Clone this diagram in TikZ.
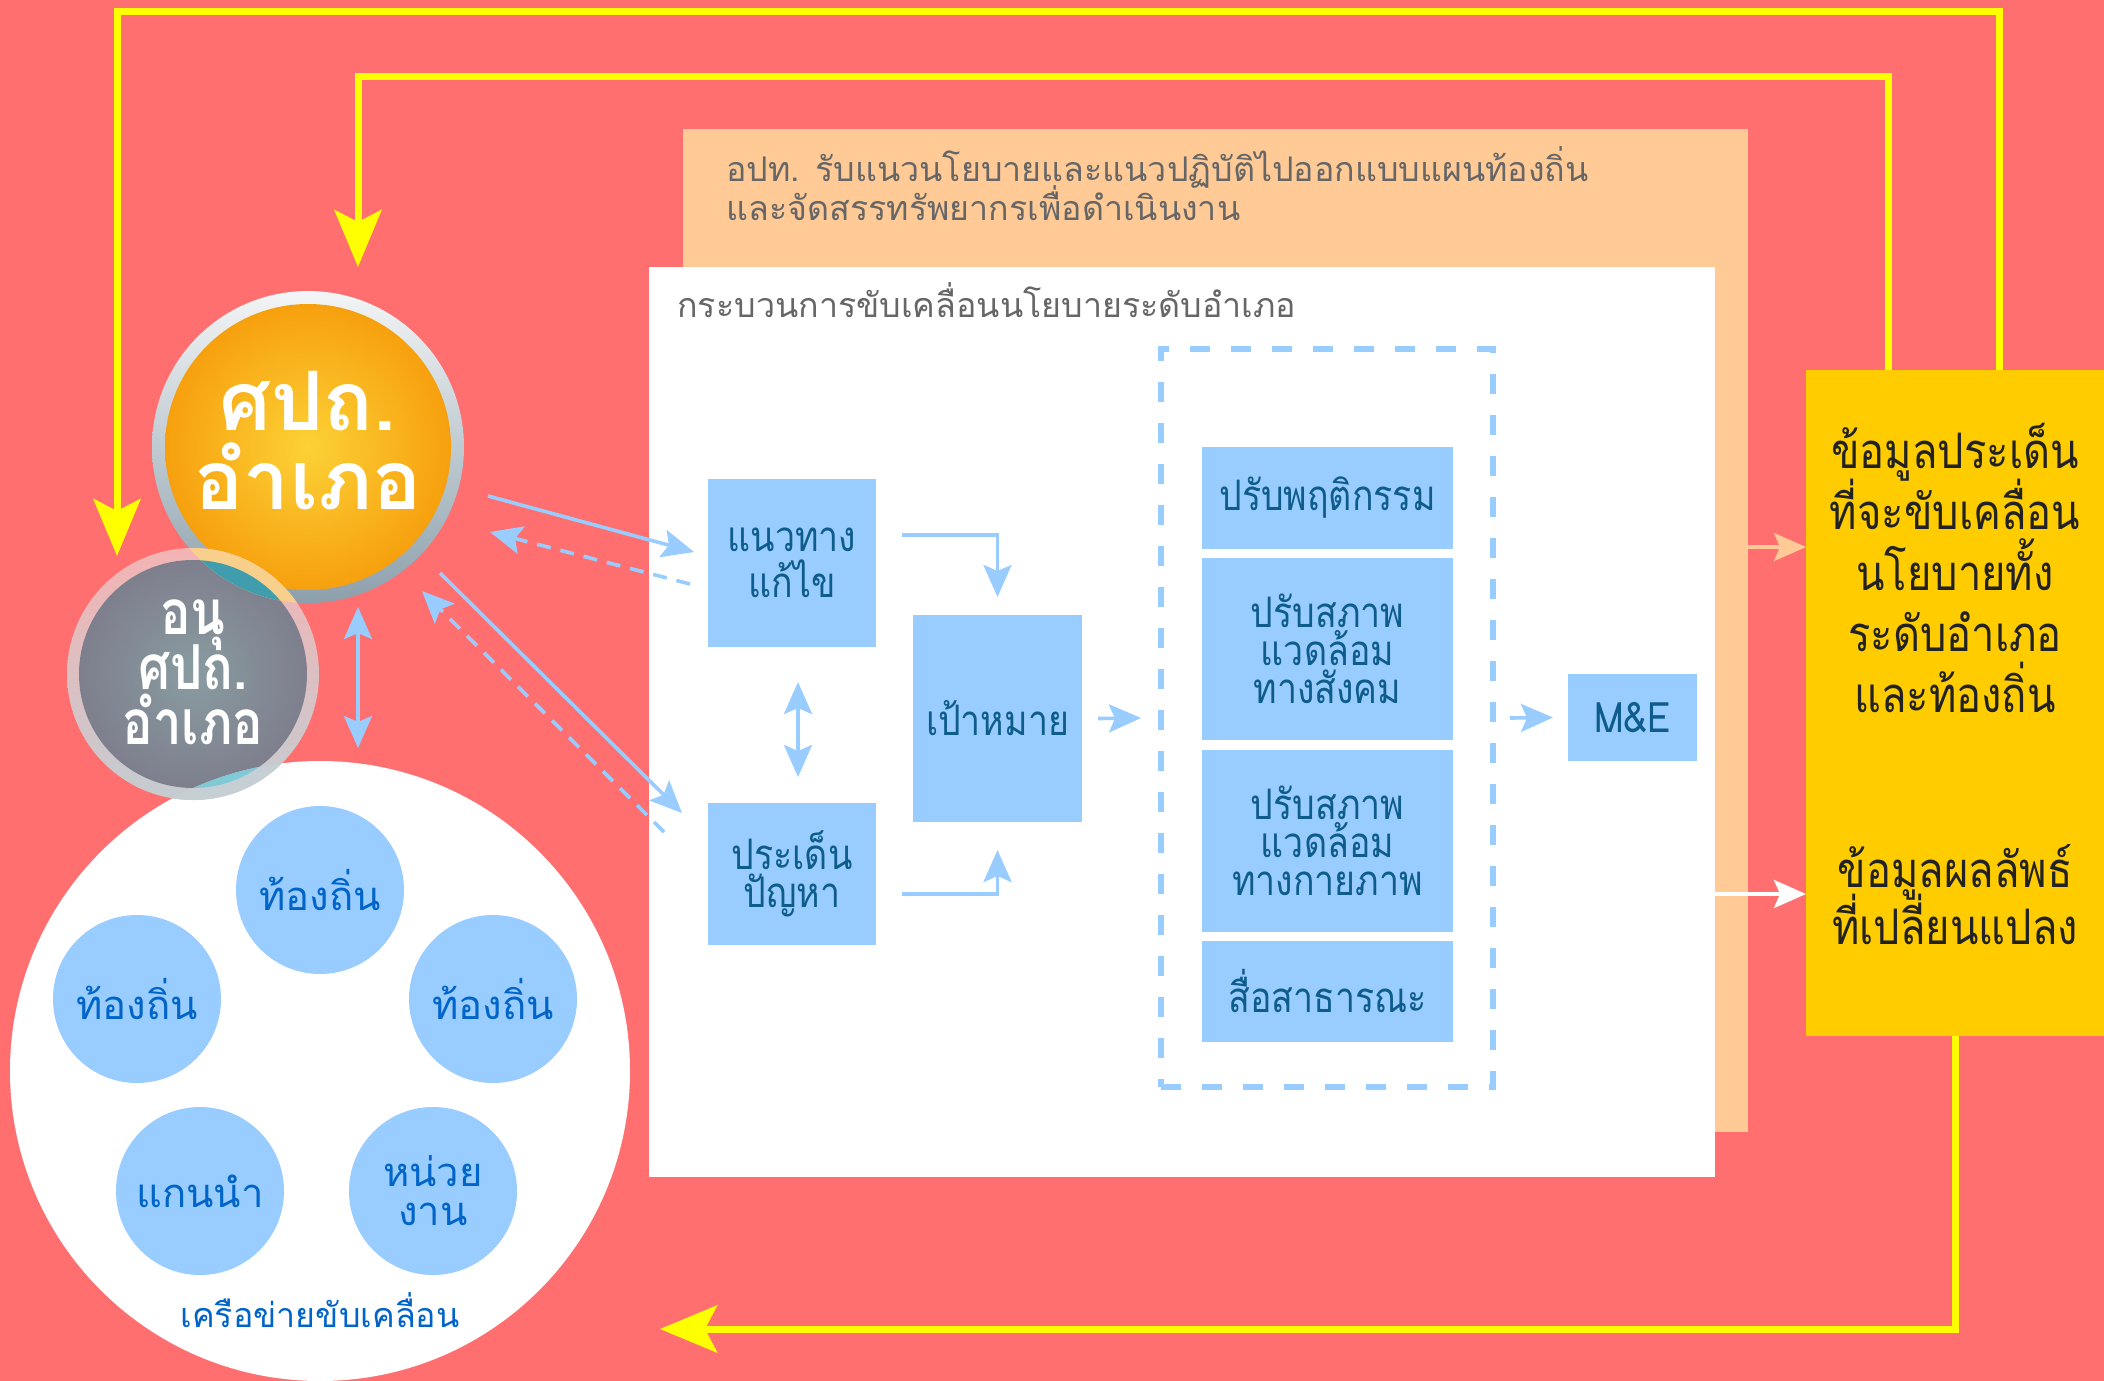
\documentclass[tikz,border=0pt]{standalone}
\usepackage{fontspec}
\usetikzlibrary{arrows.meta}
\newfontfamily\thai[Script=Thai]{Loma}
\newfontfamily\thain[Script=Thai,FakeStretch=0.85]{Loma}
\newfontfamily\thaig[Script=Thai,FakeStretch=0.82]{Loma}
\newcommand\fsz[2]{\fontsize{#1}{#2}\selectfont\lineskiplimit=-\maxdimen}
\definecolor{salmon}{HTML}{FF6F6F}
\definecolor{peachc}{HTML}{FFCA96}
\definecolor{yboxc}{HTML}{FFCC00}
\definecolor{ylinec}{HTML}{FFFF00}
\definecolor{bluec}{HTML}{99CCFF}
\definecolor{boxtxt}{HTML}{0E5C8C}
\definecolor{circtxt}{HTML}{0064C8}
\definecolor{headgrey}{HTML}{666666}
\definecolor{darktxt}{HTML}{222222}
\definecolor{ringtop}{HTML}{F3F5F6}
\definecolor{ringbot}{HTML}{8CA0AC}
\definecolor{orin}{HTML}{FCD236}
\definecolor{orout}{HTML}{F7A00E}
\definecolor{gin}{HTML}{899CA1}
\definecolor{gout}{HTML}{7E7F8D}
\definecolor{gringtop}{HTML}{F4B3B3}
\definecolor{gringbot}{HTML}{C4CCD1}
\definecolor{ovteal}{HTML}{3F9DAD}
\definecolor{ovring}{HTML}{F8D08C}
\definecolor{ovcyan}{HTML}{80C9D6}
\definecolor{ovgrey}{HTML}{C5CFD4}
\tikzset{
  rectbox/.style={rectangle, inner sep=0pt, outer sep=0pt},
  bbox/.style={rectbox, fill=bluec, text=boxtxt, align=center, font=\thain\fsz{21}{19}},
  scirc/.style={circle, inner sep=0pt, minimum size=84pt, fill=bluec, text=circtxt, align=center, font=\thai\fsz{20}{19.5}},
  yl/.style={draw=ylinec, line width=3.5pt, -{Stealth[length=28.5pt,width=23.5pt,inset=6pt]}},
  barrow/.style={draw=bluec, line width=1.8pt, -{Stealth[length=16pt,width=14pt,inset=3pt]}},
  bdarrow/.style={draw=bluec, line width=1.8pt, {Stealth[length=16pt,width=14pt,inset=3pt]}-{Stealth[length=16pt,width=14pt,inset=3pt]}},
  bdash/.style={barrow, dash pattern=on 7pt off 5pt},
}
\begin{document}
\begin{tikzpicture}[x=0.5pt,y=-0.5pt]
\useasboundingbox (0,0) rectangle (2104,1381);
\fill[salmon] (0,0) rectangle (2104,1381);

% big boxes
\node[rectbox, fill=peachc, minimum width=532.5pt, minimum height=501.5pt] (peach) at (1215.5,630.5) {};
\node[rectbox, fill=white, minimum width=533pt, minimum height=455pt] (wbox) at (1182,722) {};
\node[anchor=west, text=headgrey, align=left, inner sep=0pt, font=\thai\fsz{17}{19.5}] (peachtxt) at (726,184)
  {อปท. รับแนวนโยบายและแนวปฏิบัติไปออกแบบแผนท้องถิ่น\\และจัดสรรทรัพยากรเพื่อดำเนินงาน};
\node[anchor=west, text=headgrey, inner sep=0pt, font=\thai\fsz{17}{19.5}] (wtitle) at (677,300)
  {กระบวนการขับเคลื่อนนโยบายระดับอำเภอ};

% dashed group
\node[rectbox, draw=bluec, line width=3.2pt, dash pattern=on 10pt off 10.5pt, minimum width=166pt, minimum height=369pt] (dbox) at (1327,718) {};

% blue boxes
\node[bbox, minimum width=84pt, minimum height=84pt, font=\thain\fsz{21}{23}] (b1) at (792,563) {แนวทาง\\แก้ไข};
\node[bbox, minimum width=84pt, minimum height=71pt] (b2) at (792,874) {ประเด็น\\ปัญหา};
\node[bbox, minimum width=84.5pt, minimum height=103.5pt] (goal) at (997.5,718.5) {เป้าหมาย};
\node[bbox, minimum width=125.5pt, minimum height=51pt] (p1) at (1327.5,498) {ปรับพฤติกรรม};
\node[bbox, minimum width=125.5pt, minimum height=91pt] (p2) at (1327.5,649) {ปรับสภาพ\\แวดล้อม\\ทางสังคม};
\node[bbox, minimum width=125.5pt, minimum height=91pt] (p3) at (1327.5,841) {ปรับสภาพ\\แวดล้อม\\ทางกายภาพ};
\node[bbox, minimum width=125.5pt, minimum height=50.5pt] (p4) at (1327.5,991.5) {สื่อสาธารณะ};
\node[bbox, minimum width=64.5pt, minimum height=43.5pt] (me) at (1632.5,717.5) {M\&E};

% yellow box
\node[rectbox, fill=yboxc, minimum width=149pt, minimum height=333pt] (ybox) at (1955,703) {};
\node[text=darktxt, align=center, inner sep=0pt, font=\thain\fsz{24.5}{30.5}] (ytxt1) at (1955,568)
  {ข้อมูลประเด็น\\ที่จะขับเคลื่อน\\นโยบายทั้ง\\ระดับอำเภอ\\และท้องถิ่น};
\node[text=darktxt, align=center, inner sep=0pt, font=\thain\fsz{24.5}{28.5}] (ytxt2) at (1955,895)
  {ข้อมูลผลลัพธ์\\ที่เปลี่ยนแปลง};

% network circle
\node[circle, fill=white, inner sep=0pt, minimum size=310pt] (net) at (320,1071) {};
\node[scirc] (c1) at (320,890) {ท้องถิ่น};
\node[scirc] (c2) at (137,999) {ท้องถิ่น};
\node[scirc] (c3) at (493,999) {ท้องถิ่น};
\node[scirc] (c4) at (200,1191) {แกนนำ};
\node[scirc] (c5) at (433,1191) {หน่วย\\งาน};
\node[text=circtxt, inner sep=0pt, font=\thai\fsz{17}{19}] (netlbl) at (320,1310) {เครือข่ายขับเคลื่อน};

% orange circle
\node[circle, inner sep=0pt, minimum size=156pt, top color=ringtop, bottom color=ringbot] (orange) at (308,447) {};
\node[circle, inner sep=0pt, minimum size=143pt, inner color=orin, outer color=orout] (orangein) at (308,447) {};

% grey circle
\node[circle, inner sep=0pt, minimum size=126pt, top color=gringtop, bottom color=gringbot] (grey) at (193,674) {};
\node[circle, inner sep=0pt, minimum size=114pt, inner color=gin, outer color=gout] (greyin) at (193,674) {};
\begin{scope}
  \clip (308,447) circle[radius=78pt];
  \fill[ovring] (193,674) circle[radius=63pt];
  \fill[ovteal] (193,674) circle[radius=57pt];
\end{scope}
\begin{scope}
  \clip (320,1071) circle[radius=155pt];
  \fill[ovgrey] (193,674) circle[radius=63pt];
  \fill[ovcyan] (193,674) circle[radius=57pt];
\end{scope}
\node[text=white, align=center, inner sep=0pt, font=\thai\bfseries\fsz{41}{39.5}] (otxt) at (308,441) {ศปถ.\\อำเภอ};
\node[text=white, align=center, inner sep=0pt, font=\thaig\bfseries\fsz{31}{27.5}] (gtxt) at (193,672) {อนุ\\ศปถ.\\อำเภอ};

% yellow loops
\coordinate (otip) at (117,556);
\coordinate (itip) at (358,267);
\coordinate (btip) at (660,1329);
\draw[yl] ([xshift=22pt]ybox.north) -- ++(0,-359) -| (otip);
\draw[yl] ([xshift=-33.5pt]ybox.north) -- ++(0,-294) -| (itip);
\draw[yl] (ybox.south) |- (btip);

% blue connectors
\draw[barrow] ([shift={(180,49)}]orange.center) -- ([shift={(-14,-11)}]b1.west);
\draw[bdash] ([shift={(-18,21)}]b1.west) -- ([shift={(182,85)}]orange.center);
\draw[barrow] ([shift={(132,126)}]orange.center) -- ([shift={(-26,-61)}]b2.west);
\draw[bdash] ([shift={(-44,-42)}]b2.west) -- ([shift={(114,144)}]orange.center);
\draw[bdarrow] ([shift={(50,160)}]orange.center) -- ([shift={(38,-323)}]net.center);
\draw[bdarrow] ([shift={(6,35)}]b1.south) -- ([shift={(6,-26)}]b2.north);
\draw[barrow] ([shift={(26,-28)}]b1.east) -| ([shift={(0,-18)}]goal.north);
\draw[barrow] ([shift={(26,20)}]b2.east) -| ([shift={(0,28)}]goal.south);
\draw[barrow] ([shift={(16,0)}]goal.east) -- ([shift={(-20,0)}]dbox.west);
\draw[barrow] ([shift={(17,0)}]dbox.east) -- ([shift={(-15,0)}]me.west);
\draw[draw=peachc, line width=1.8pt, -{Stealth[length=16pt,width=14pt,inset=3pt]}] ([shift={(0,-83.5)}]peach.east) -- ([shift={(0,-156)}]ybox.west);
\draw[draw=white, line width=1.8pt, -{Stealth[length=16pt,width=14pt,inset=3pt]}] ([shift={(0,172)}]wbox.east) -- ([shift={(0,191)}]ybox.west);
\end{tikzpicture}
\end{document}
